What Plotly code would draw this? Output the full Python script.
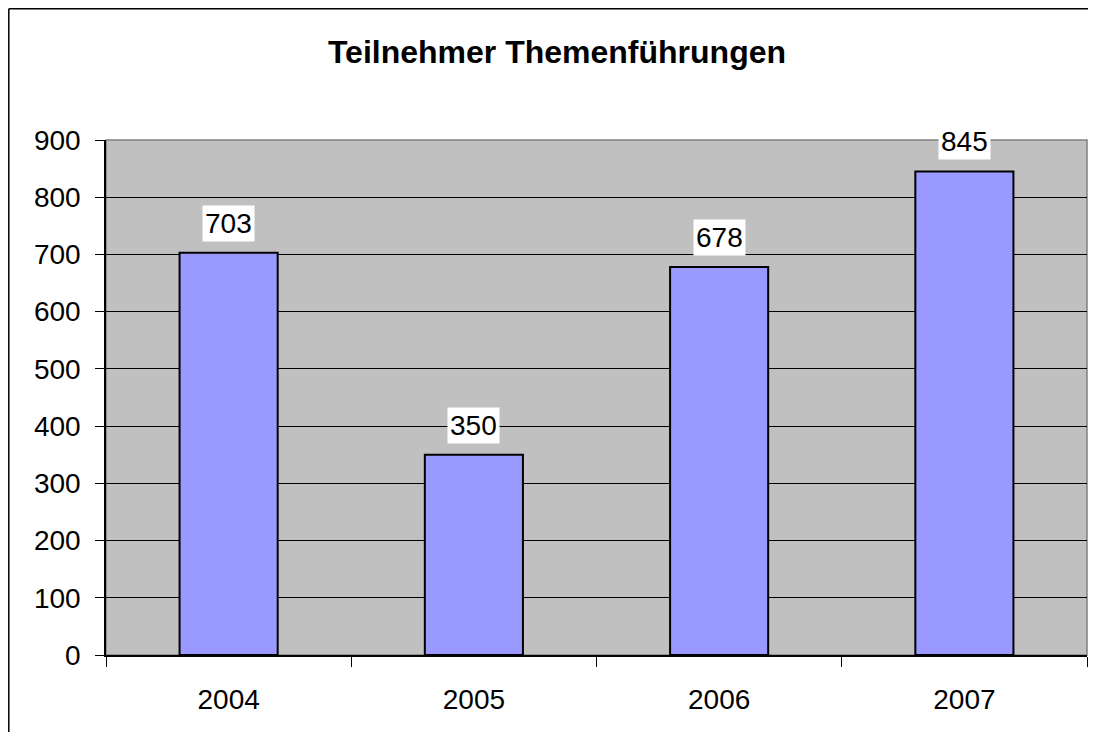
import plotly.graph_objects as go

# Teilnehmer pro Jahr
years = ['2004', '2005', '2006', '2007']
participants = [703, 350, 678, 845]

FONT = 'Arial, Liberation Sans, sans-serif'

# page body has an 8px margin; figure runs to the right window edge
W, H = 1088, 724

fig = go.Figure()
fig.add_trace(go.Bar(
    x=years,
    y=participants,
    width=0.4,
    marker=dict(color='#9999FF', line=dict(color='black', width=2)),
    showlegend=False,
    hoverinfo='x+y',
))

# value labels on white boxes above the bars
# (x given as category index, a string year would be read as index 2004)
for i, val in enumerate(participants):
    fig.add_annotation(
        x=i, y=val, text=str(val),
        showarrow=False, yanchor='bottom', yshift=11,
        bgcolor='white', borderpad=2,
        font=dict(family=FONT, size=28, color='black'),
    )

ml, mr, mt, mb = 98, 9, 132, 77
pw = W - ml - mr
ph = H - mt - mb

# plot area border (top/right grey)
fig.add_shape(type='rect', xref='paper', yref='paper',
              x0=0, x1=1, y0=0, y1=1,
              line=dict(color='#808080', width=1.5), layer='below')
# outer chart frame: only left and top edges are inside the picture
fx0 = (0.8 - ml) / pw
fy1 = (ph + mt - 0.8) / ph
fig.add_shape(type='line', xref='paper', yref='paper',
              x0=fx0, x1=fx0, y0=-(mb + 5) / ph, y1=fy1,
              line=dict(color='black', width=1.5))
fig.add_shape(type='line', xref='paper', yref='paper',
              x0=fx0, x1=(W - ml + 5) / pw, y0=fy1, y1=fy1,
              line=dict(color='black', width=1.5))

fig.update_layout(
    width=W, height=H,
    margin=dict(l=ml, r=mr, t=mt, b=mb),
    paper_bgcolor='white',
    plot_bgcolor='#C0C0C0',
    font=dict(family=FONT, size=28, color='black'),
    title=dict(text='<b>Teilnehmer Themenführungen</b>',
               x=549 / W, xanchor='center',
               y=1 - 44 / H, yanchor='middle',
               font=dict(family=FONT, size=32, color='black')),
    bargap=0.6,
)
fig.update_xaxes(
    type='category', range=[-0.5, 3.5],
    showline=True, linecolor='black', linewidth=1.5,
    ticks='outside', tickson='boundaries', ticklen=10,
    tickcolor='black', tickwidth=1.2,
    ticklabelstandoff=19,
    showgrid=False,
)
fig.update_yaxes(
    range=[0, 900], dtick=100,
    showline=True, linecolor='black', linewidth=1.5,
    ticks='outside', ticklen=9, tickcolor='black', tickwidth=1.2,
    ticklabelstandoff=9,
    showgrid=True, gridcolor='black', gridwidth=1,
    zeroline=False,
)

fig.write_html('out.html')
